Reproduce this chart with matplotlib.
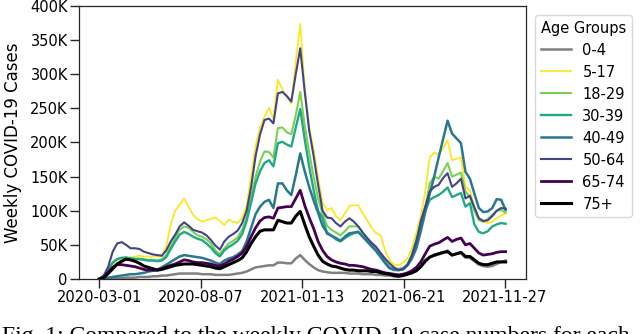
import pandas as pd
import matplotlib
matplotlib.use("Agg")
import matplotlib.pyplot as plt
from matplotlib.ticker import FuncFormatter

# weekly case counts (thousands), one value per week starting 2020-03-01
start_date = "2020-03-01"

cases_0_4 = [0, 0, 0, 1, 1, 1, 2, 2, 2, 3,
             3, 3, 4, 4, 5, 5, 6, 7, 8, 8,
             8, 8, 8, 7, 7, 7, 6, 6, 6, 6,
             7, 8, 9, 11, 14, 17, 18, 19, 20, 20,
             24, 24, 23, 23, 30, 35, 28, 22, 17, 13,
             11, 10, 9, 9, 9, 9, 8, 8, 8, 7,
             7, 7, 6, 6, 5, 5, 4, 4, 5, 7,
             10, 14, 20, 28, 32, 34, 36, 38, 42, 35,
             37, 38, 31, 31, 26, 21, 19, 18, 19, 22,
             25, 27]
cases_5_17 = [0, 3, 11, 19, 24, 26, 29, 31, 33, 34,
              33, 33, 33, 33, 35, 48, 80, 100, 109, 118,
              106, 94, 88, 84, 86, 88, 90, 85, 79, 87,
              84, 82, 90, 108, 150, 195, 222, 238, 251, 234,
              292, 278, 267, 257, 318, 374, 280, 222, 190, 148,
              112, 101, 104, 92, 86, 96, 107, 108, 108, 96,
              86, 75, 67, 64, 42, 28, 21, 20, 24, 30,
              45, 68, 92, 128, 178, 185, 182, 192, 203, 174,
              176, 178, 135, 130, 105, 90, 84, 82, 84, 89,
              93, 96]
cases_18_29 = [0, 4, 14, 24, 29, 31, 32, 31, 30, 30,
               29, 28, 28, 27, 29, 35, 48, 60, 72, 77,
               75, 69, 64, 62, 58, 52, 42, 36, 45, 52,
               56, 61, 72, 90, 120, 150, 172, 187, 186, 178,
               221, 222, 215, 212, 240, 274, 225, 186, 150, 118,
               96, 78, 72, 68, 64, 70, 77, 77, 77, 68,
               59, 50, 44, 36, 26, 18, 15, 15, 16, 22,
               35, 58, 80, 105, 140, 150, 147, 158, 170, 150,
               153, 156, 128, 120, 100, 86, 84, 88, 94, 100,
               101, 97]
cases_30_39 = [0, 4, 14, 24, 29, 31, 31, 30, 29, 29,
               28, 27, 27, 26, 27, 32, 44, 55, 65, 69,
               66, 62, 59, 57, 52, 46, 38, 33, 42, 47,
               51, 56, 66, 85, 112, 140, 158, 170, 174, 165,
               199, 201, 197, 194, 222, 249, 205, 165, 130, 100,
               90, 66, 64, 58, 55, 60, 64, 67, 69, 62,
               55, 48, 41, 32, 23, 16, 13, 13, 14, 20,
               32, 55, 76, 100, 116, 120, 123, 128, 134, 120,
               123, 126, 106, 111, 80, 69, 67, 70, 77, 80,
               82, 81]
cases_40_49 = [0, 1, 2, 3, 4, 5, 6, 7, 7, 8,
               9, 11, 12, 14, 17, 21, 25, 29, 33, 35,
               34, 33, 32, 31, 29, 27, 24, 22, 27, 30,
               32, 36, 41, 55, 75, 95, 106, 113, 116, 104,
               140, 140, 130, 123, 152, 184, 158, 135, 115, 97,
               78, 68, 63, 60, 56, 62, 67, 68, 69, 62,
               55, 48, 41, 33, 24, 16, 14, 13, 15, 20,
               30, 45, 70, 98, 125, 150, 178, 205, 232, 213,
               206, 199, 157, 147, 125, 104, 98, 99, 104, 117,
               116, 101]
cases_50_64 = [0, 5, 18, 40, 52, 54, 50, 45, 45, 44,
               40, 38, 36, 35, 34, 42, 55, 65, 77, 83,
               78, 72, 70, 68, 64, 57, 49, 43, 55, 62,
               66, 71, 82, 100, 135, 180, 212, 233, 235, 228,
               272, 274, 268, 260, 300, 338, 275, 218, 180, 138,
               100, 90, 89, 82, 77, 84, 89, 84, 77, 68,
               60, 53, 47, 38, 30, 23, 17, 13, 14, 20,
               35, 55, 85, 106, 128, 135, 138, 148, 155, 135,
               140, 147, 118, 122, 105, 89, 85, 86, 92, 100,
               104, 103]
cases_65_74 = [0, 3, 10, 17, 21, 21, 20, 19, 18, 16,
               14, 13, 13, 13, 15, 18, 20, 22, 25, 28,
               27, 25, 24, 24, 23, 22, 20, 19, 22, 26,
               29, 33, 38, 48, 62, 75, 85, 90, 91, 89,
               104, 105, 106, 106, 118, 130, 108, 90, 74, 55,
               42, 33, 28, 25, 23, 22, 20, 20, 19, 18,
               16, 14, 13, 11, 9, 8, 7, 6, 7, 9,
               12, 17, 25, 37, 48, 51, 53, 57, 61, 55,
               58, 60, 50, 52, 45, 38, 35, 36, 37, 39,
               40, 40]
cases_75_plus = [0, 2, 8, 15, 22, 26, 29, 28, 26, 23,
                 19, 17, 15, 13, 14, 16, 18, 20, 21, 22,
                 22, 22, 21, 20, 19, 18, 16, 15, 18, 21,
                 24, 27, 31, 40, 52, 62, 70, 72, 72, 72,
                 86, 84, 82, 82, 92, 99, 80, 62, 48, 35,
                 26, 22, 19, 18, 16, 14, 13, 13, 12, 12,
                 12, 11, 11, 9, 8, 7, 5, 4, 5, 7,
                 9, 12, 18, 26, 32, 35, 37, 39, 40, 35,
                 37, 39, 33, 33, 28, 23, 21, 21, 23, 25,
                 25, 25]

age_groups = ["0-4", "5-17", "18-29", "30-39", "40-49", "50-64", "65-74", "75+"]
series = [cases_0_4, cases_5_17, cases_18_29, cases_30_39,
          cases_40_49, cases_50_64, cases_65_74, cases_75_plus]
colors = ["#808080", "#fde725", "#7ad151", "#22a884",
          "#2a788e", "#414487", "#440154", "#000000"]
widths = [1.8, 1.3, 1.5, 1.7, 1.8, 1.5, 2.0, 2.2]

tick_dates = ["2020-03-01", "2020-08-07", "2021-01-13", "2021-06-21", "2021-11-27"]
caption = "Fig. 1: Compared to the weekly COVID-19 case numbers for each"

dates = pd.date_range(start_date, periods=len(cases_0_4), freq="7D")

fig = plt.figure(figsize=(6.4, 3.34), dpi=100)
ax = fig.add_axes([0.1234, 0.1647, 0.6984, 0.8174])

for name, vals, c, lw in zip(age_groups, series, colors, widths):
    ax.plot(dates, [v * 1000 for v in vals], color=c, lw=lw, label=name)

ax.set_ylim(0, 400000)
ax.set_yticks(range(0, 400001, 50000))
ax.yaxis.set_major_formatter(FuncFormatter(lambda v, p: "0" if v == 0 else "%dK" % (v / 1000)))
ax.set_xticks(pd.to_datetime(tick_dates))
ax.set_xticklabels(tick_dates)

ax.tick_params(axis="both", direction="out", length=6.5, width=1, pad=1.5,
               labelsize=10.5, color="#262626")
for sp in ax.spines.values():
    sp.set_color("#262626")
    sp.set_linewidth(0.9)

ax.set_ylabel("Weekly COVID-19 Cases", fontsize=12, labelpad=6)

leg = ax.legend(title="Age Groups", loc="upper left", bbox_to_anchor=(1.0, 1.0),
                fontsize=10.5, title_fontsize=10.5, labelspacing=0.48,
                borderaxespad=0.6, edgecolor="#d9d9d9", framealpha=1)

# caption of the paper figure, cut by the lower edge as in the source
fig.text(0.003, -0.025, caption, family="Liberation Serif", fontsize=17,
         va="baseline", ha="left")

fig.savefig("out.png", dpi=100)
